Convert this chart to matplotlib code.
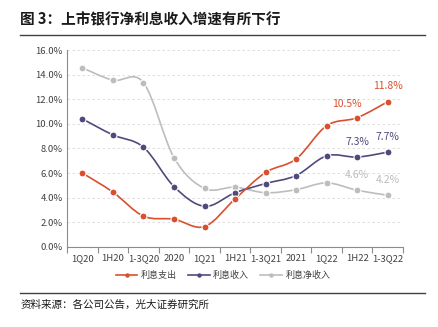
import numpy as np
import matplotlib
matplotlib.use("Agg")
import matplotlib.pyplot as plt
from matplotlib.path import Path
from matplotlib.patches import PathPatch
from matplotlib.lines import Line2D

plt.rcParams['font.family'] = ['Noto Sans CJK SC', 'DejaVu Sans']

categories = ["1Q20", "1H20", "1-3Q20", "2020", "1Q21", "1H21", "1-3Q21", "2021", "1Q22", "1H22", "1-3Q22"]
interest_expense = [6.0, 4.45, 2.5, 2.25, 1.65, 3.9, 6.05, 7.15, 9.85, 10.5, 11.8]
interest_income = [10.4, 9.1, 8.1, 4.9, 3.3, 4.4, 5.15, 5.8, 7.4, 7.3, 7.7]
net_interest_income = [14.55, 13.55, 13.35, 7.25, 4.75, 4.85, 4.4, 4.65, 5.2, 4.6, 4.2]
series_names = ["利息支出", "利息收入", "利息净收入"]
colors = ["#D9502E", "#4E4B7C", "#BDBDBD"]


def smooth_path(x, y):
    # Catmull-Rom style bezier, similar to Excel "smoothed line"
    pts = np.column_stack([x, y])
    n = len(pts)
    verts = [pts[0]]
    codes = [Path.MOVETO]
    for i in range(n - 1):
        p0 = pts[i - 1] if i > 0 else pts[i]
        p1 = pts[i]
        p2 = pts[i + 1]
        p3 = pts[i + 2] if i + 2 < n else pts[i + 1]
        c1 = p1 + (p2 - p0) / 6
        c2 = p2 - (p3 - p1) / 6
        verts += [c1, c2, p2]
        codes += [Path.CURVE4] * 3
    return Path(verts, codes)


fig = plt.figure(figsize=(4.39, 3.27), dpi=100)
ax = fig.add_axes([0.153, 0.245, 0.765, 0.602])

x = np.arange(len(categories))
all_series = [interest_expense, interest_income, net_interest_income]
for vals, c in zip(all_series[::-1], colors[::-1]):
    ax.add_patch(PathPatch(smooth_path(x, vals), facecolor="none", edgecolor=c, lw=1.2, zorder=2))
    ax.plot(x, vals, ls="none", marker="o", ms=5, mfc=c, mec="white", mew=0.8, zorder=3)

# data labels on last two points
label_style = dict(fontsize=7.5, ha="center", va="bottom")
ax.text(9 - 0.35, 10.5 + 0.7, "10.5%", color=colors[0], **label_style)
ax.text(10, 11.8 + 0.9, "11.8%", color=colors[0], **label_style)
ax.text(9, 7.3 + 0.8, "7.3%", color=colors[1], **label_style)
ax.text(10, 7.7 + 0.8, "7.7%", color=colors[1], **label_style)
ax.text(9, 4.6 + 0.8, "4.6%", color=colors[2], **label_style)
ax.text(10, 4.2 + 0.8, "4.2%", color=colors[2], **label_style)

ax.set_xlim(-0.5, len(categories) - 0.5)
ax.set_ylim(0, 16)
ax.set_yticks(np.arange(0, 16.1, 2))
ax.set_yticklabels([f"{v:.1f}%" for v in np.arange(0, 16.1, 2)])
ax.set_xticks(x)
ax.set_xticklabels(categories)
ax.set_xticks(np.arange(-0.5, len(categories), 1), minor=True)
ax.tick_params(axis="x", which="major", length=0, labelsize=6.8, colors="#404040", pad=5)
ax.tick_params(axis="x", which="minor", length=4, color="#8C8C8C", width=0.8)
ax.tick_params(axis="y", length=0, labelsize=6.8, colors="#404040", pad=3)
ax.grid(axis="y", ls=(0, (3, 3)), color="#D9D9D9", lw=0.6)
ax.set_axisbelow(True)
for s in ["top", "right"]:
    ax.spines[s].set_visible(False)
for s in ["left", "bottom"]:
    ax.spines[s].set_color("#8C8C8C")
    ax.spines[s].set_linewidth(0.8)

handles = [Line2D([0], [0], color=c, lw=1.2, marker="o", ms=2.2, mfc=c, mec=c) for c in colors]
fig.legend(handles, series_names, loc="center", bbox_to_anchor=(0.508, 0.158), ncol=3, frameon=False,
           fontsize=6.5, handlelength=2.4, columnspacing=1.2, handletextpad=0.4, labelcolor="#404040")

fig.text(0.046, 0.94, "图 3：上市银行净利息收入增速有所下行", fontsize=10.5, fontweight="bold", va="center", color="#1a1a1a")
fig.add_artist(Line2D([0.046, 0.968], [0.892, 0.892], color="#404040", lw=1.0))
fig.add_artist(Line2D([0.046, 0.968], [0.105, 0.105], color="#404040", lw=1.0))
fig.text(0.046, 0.068, "资料来源：各公司公告，光大证券研究所", fontsize=7.6, va="center", color="#1a1a1a")

fig.savefig("out.png", dpi=100)
